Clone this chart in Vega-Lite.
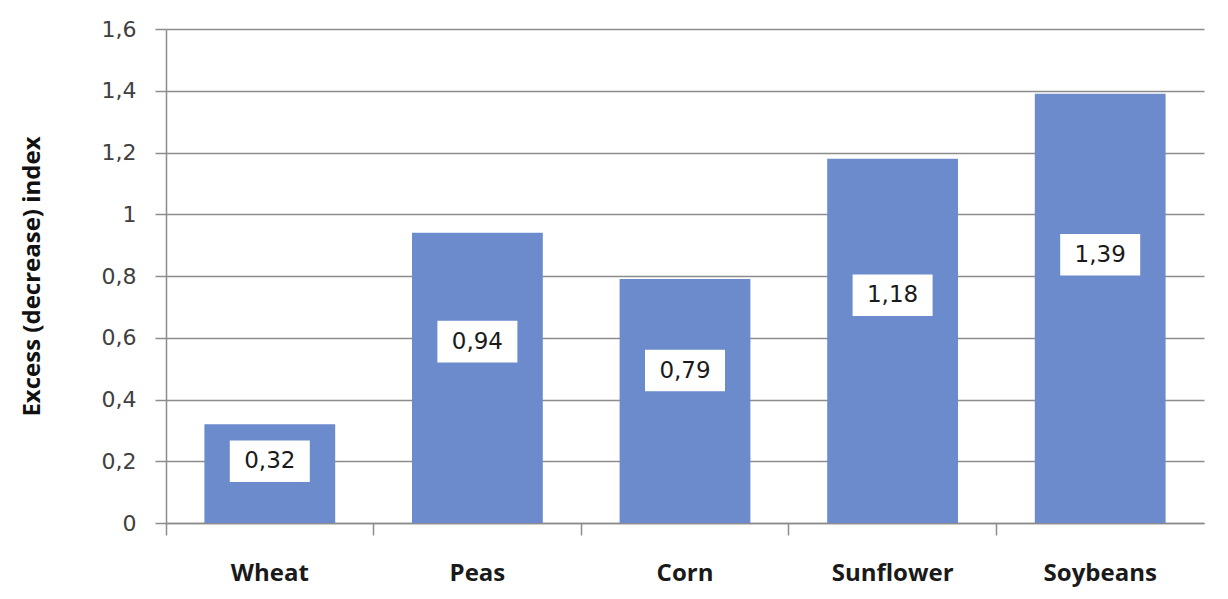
{
  "$schema": "https://vega.github.io/schema/vega-lite/v6.json",
  "width": 1038,
  "height": 494,
  "autosize": {"type": "none"},
  "padding": {"left": 166, "top": 29, "right": 24, "bottom": 76},
  "background": "white",
  "config": {"view": {"stroke": null}},
  "data": {
    "values": [
      {"crop": "Wheat", "value": 0.32},
      {"crop": "Peas", "value": 0.94},
      {"crop": "Corn", "value": 0.79},
      {"crop": "Sunflower", "value": 1.18},
      {"crop": "Soybeans", "value": 1.39}
    ]
  },
  "transform": [
    {"calculate": "replace(format(datum.value, '.2f'), '.', ',')", "as": "label"},
    {"calculate": "datum.value * 0.625", "as": "labelPos"}
  ],
  "encoding": {
    "x": {
      "field": "crop",
      "type": "nominal",
      "sort": null,
      "scale": {"paddingInner": 0, "paddingOuter": 0},
      "axis": {
        "title": null,
        "bandPosition": 0,
        "labelAngle": 0,
        "tickSize": 12,
        "tickColor": "#8c8c8c",
        "tickWidth": 1.5,
        "domainColor": "#8c8c8c",
        "domainWidth": 1.5,
        "labelPadding": 38,
        "labelBaseline": "middle",
        "labelFont": "Open Sans",
        "labelFontWeight": "bold",
        "labelFontSize": 24,
        "labelColor": "#1a1a1a",
        "grid": false
      }
    }
  },
  "layer": [
    {
      "mark": {"type": "bar", "width": {"band": 0.63}, "color": "#6b8bcd"},
      "encoding": {
        "y": {
          "field": "value",
          "type": "quantitative",
          "scale": {"domain": [0, 1.6]},
          "title": "Excess (decrease) index",
          "axis": {
            "values": [0, 0.2, 0.4, 0.6, 0.8, 1, 1.2, 1.4, 1.6],
            "labelExpr": "replace(format(datum.value, '.1~f'), '.', ',')",
            "grid": true,
            "gridColor": "#8c8c8c",
            "gridWidth": 1.5,
            "domainColor": "#8c8c8c",
            "domainWidth": 1.5,
            "tickColor": "#8c8c8c",
            "tickWidth": 1.5,
            "tickSize": 11,
            "labelPadding": 19,
            "labelFont": "DejaVu Sans",
            "labelFontSize": 22,
            "labelColor": "#404040",
            "titleFont": "Open Sans",
            "titleFontWeight": "bold",
            "titleFontSize": 24,
            "titleColor": "#111111",
            "titleX": -134,
            "titleY": 247,
            "titleAngle": -90,
            "titleAlign": "center",
            "titleBaseline": "middle"
          }
        }
      }
    },
    {
      "mark": {"type": "point", "shape": "M-1,-0.52L1,-0.52L1,0.52L-1,0.52Z", "size": 6400, "filled": true, "color": "white", "opacity": 1, "strokeWidth": 0},
      "encoding": {
        "y": {"field": "labelPos", "type": "quantitative", "title": "Excess (decrease) index"}
      }
    },
    {
      "mark": {"type": "text", "font": "DejaVu Sans", "fontSize": 23, "color": "#1a1a1a"},
      "encoding": {
        "y": {"field": "labelPos", "type": "quantitative", "title": "Excess (decrease) index"},
        "text": {"field": "label"}
      }
    }
  ]
}
